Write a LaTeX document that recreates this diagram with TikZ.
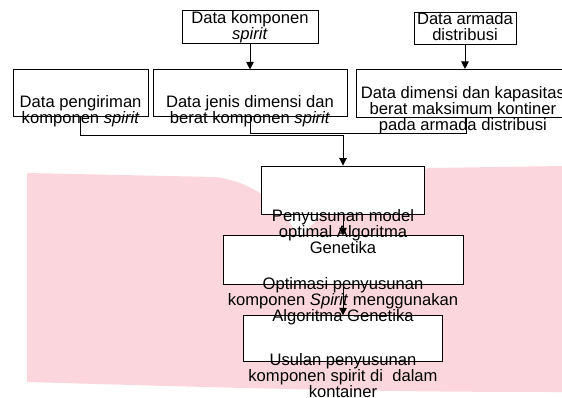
\documentclass[tikz,border=0pt]{standalone}
\usepackage{fontspec}
\setmainfont{Liberation Sans}
\usetikzlibrary{positioning,arrows.meta}
\definecolor{watermark}{RGB}{251,215,221}

\begin{document}
\begin{tikzpicture}[x=1pt, y=-1pt,
	box/.style={draw, fill=white, line width=0.9pt, inner sep=0pt},
	txt/.style={align=center, inner sep=0pt, font=\fontsize{16.6pt}{16pt}\selectfont},
	arr/.style={line width=0.9pt, -{Triangle[width=7.5pt,length=7.5pt]}},
	link/.style={line width=0.9pt}]
	\useasboundingbox (0,0) rectangle (562,397);
	\fill[watermark] (27,173) -- (215,177) .. controls (255,182) and (282,205) .. (300,240)
		.. controls (318,212) and (365,178) .. (430,168) -- (562,166) -- (562,392)
		.. controls (400,392) and (300,390) .. (27,382) -- cycle;
	
	\node[box, minimum width=136pt, minimum height=33pt] (komponen) at (250,26.5) {};
	\node[box, minimum width=194pt, minimum height=47pt, below=26pt of komponen] (jenis) {};
	\node[box, minimum width=135pt, minimum height=47pt, left=4pt of jenis] (kirim) {};
	\node[box, minimum width=212pt, minimum height=48pt, right=9pt of jenis] (dimensi) {};
	\node[box, minimum width=102pt, minimum height=32pt] (armada) at (465,28) {};
	\node[box, minimum width=163pt, minimum height=48pt] (model) at (343,190) {};
	\node[box, minimum width=240pt, minimum height=49pt, below=21pt of model] (optimasi) {};
	\node[box, minimum width=199pt, minimum height=46pt, below=30pt of optimasi] (usulan) {};
	
	\node[txt] (komponen-t) at ([yshift=-1pt]komponen.center) {Data komponen\\\textit{spirit}};
	\node[txt] (armada-t) at ([yshift=1pt]armada.center) {Data armada\\distribusi};
	\node[txt] (kirim-t) at ([yshift=-17.5pt]kirim.center) {Data pengiriman\\komponen \textit{spirit}};
	\node[txt] (jenis-t) at ([yshift=-18pt]jenis.center) {Data jenis dimensi dan\\berat komponen \textit{spirit}};
	\node[txt] (dimensi-t) at ([yshift=-16.5pt]dimensi.center) {Data dimensi dan kapasitas\\berat maksimum kontiner\\pada armada distribusi};
	\node[txt] (model-t) at ([yshift=-42pt]model.center) {Penyusunan model\\optimal Algoritma\\Genetika};
	\node[txt] (optimasi-t) at ([yshift=-40.5pt]optimasi.center) {Optimasi penyusunan\\komponen \textit{Spirit} menggunakan\\Algoritma Genetika};
	\node[txt] (usulan-t) at ([yshift=-37pt]usulan.center) {Usulan penyusunan\\komponen spirit di~ dalam\\kontainer};
	
	\coordinate (join) at (343,135);
	\coordinate (dimjoin) at (466,133);
	
	\draw[arr] (komponen) -- (jenis);
	\draw[arr] (armada.south) -- (armada.south |- dimensi.north);
	\draw[link] (kirim.south) |- (join);
	\draw[link] (jenis.south) |- (dimjoin) -- (dimjoin |- dimensi.south);
	\draw[arr] (join) -- (model);
	\draw[arr] (model) -- (optimasi);
	\draw[arr] (optimasi) -- (usulan);
\end{tikzpicture}
\end{document}
